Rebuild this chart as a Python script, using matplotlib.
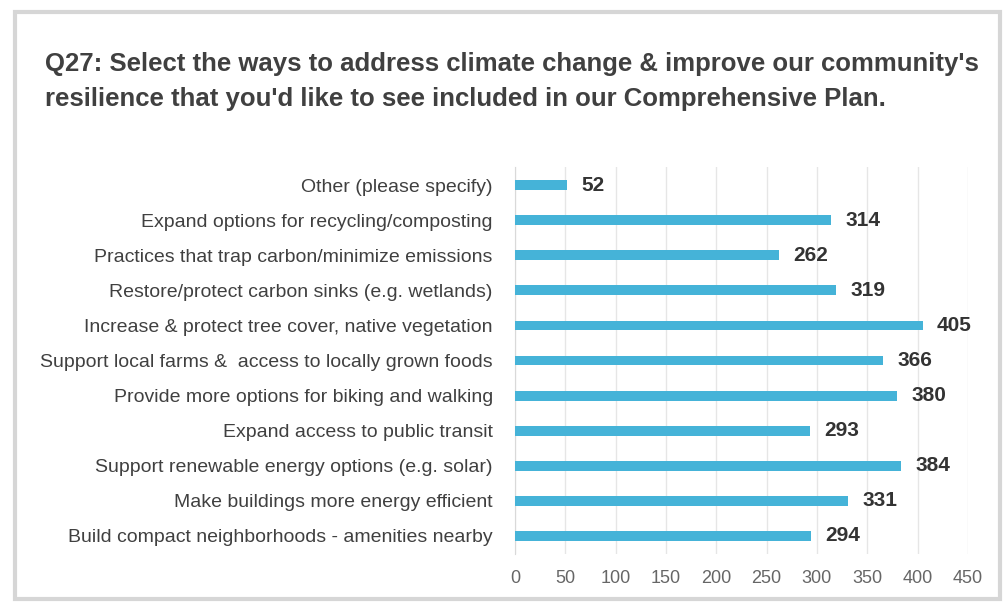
import matplotlib
matplotlib.use("Agg")
import matplotlib.pyplot as plt
from matplotlib.patches import Rectangle

categories = [
    "Other (please specify)",
    "Expand options for recycling/composting",
    "Practices that trap carbon/minimize emissions",
    "Restore/protect carbon sinks (e.g. wetlands)",
    "Increase & protect tree cover, native vegetation",
    "Support local farms &  access to locally grown foods",
    "Provide more options for biking and walking",
    "Expand access to public transit",
    "Support renewable energy options (e.g. solar)",
    "Make buildings more energy efficient",
    "Build compact neighborhoods - amenities nearby",
]
values = [52, 314, 262, 319, 405, 366, 380, 293, 384, 331, 294]
xticks = [0, 50, 100, 150, 200, 250, 300, 350, 400, 450]
title = ("Q27: Select the ways to address climate change & improve our community's\n"
         "resilience that you'd like to see included in our Comprehensive Plan.")

fam = ["Liberation Sans", "DejaVu Sans"]

fig = plt.figure(figsize=(10.04, 6.06), dpi=100)
fig.patch.set_facecolor("white")
fig.patches.append(Rectangle((0.015, 0.012), 0.981, 0.968, transform=fig.transFigure,
                             fill=False, edgecolor="#d6d6d6", linewidth=3))

ax = fig.add_axes([0.513, 0.0866, 0.451, 0.637])
ypos = list(range(len(categories)))
ax.barh(ypos, values, height=0.28, color="#45b3d8", zorder=3)
ax.set_ylim(len(categories) - 0.5, -0.5)
ax.set_xlim(0, 450)
ax.set_xticks(xticks)
ax.set_xticklabels([str(t) for t in xticks], fontsize=13, color="#666666", family=fam)
ax.set_yticks(ypos)
ax.set_yticklabels(categories, fontsize=14, color="#404040", family=fam)
ax.tick_params(axis="both", length=0)
ax.tick_params(axis="y", pad=16)
ax.tick_params(axis="x", pad=12)
ax.grid(axis="x", color="#e6e6e6", linewidth=1, zorder=0)
for s in ["top", "right", "bottom"]:
    ax.spines[s].set_visible(False)
ax.spines["left"].set_color("#d9d9d9")

for y, v in zip(ypos, values):
    ax.text(v + 14, y, str(v), va="center", ha="left", fontsize=15, fontweight="bold",
            color="#333333", family=fam)

fig.text(0.045, 0.866, title, fontsize=18.5, fontweight="bold", color="#404040",
         family=fam, va="center", ha="left", linespacing=1.6)

fig.savefig("out.png", dpi=100)
